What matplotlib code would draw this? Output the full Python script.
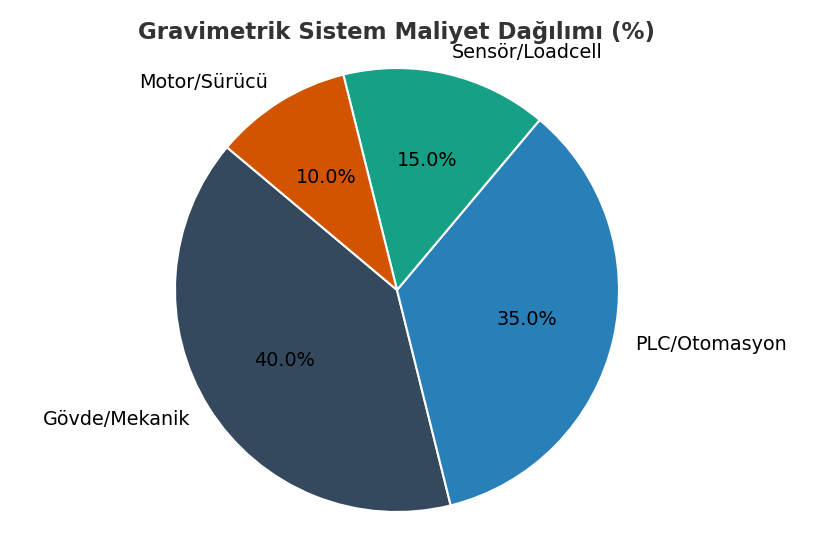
import matplotlib.pyplot as plt

labels = ["Gövde/Mekanik", "PLC/Otomasyon", "Sensör/Loadcell", "Motor/Sürücü"]
shares = [40, 35, 15, 10]
colors = ["#34495e", "#2980b9", "#16a085", "#d35400"]

fig = plt.figure(figsize=(8.25, 5.5), dpi=100)
# square axes centred on the pie (pixel-matched to the reference)
w = 555 / 825
h = 555 / 550
ax = fig.add_axes([(397 - 277.5) / 825, (260 - 277.5) / 550, w, h])
ax.pie(shares, labels=labels, colors=colors, autopct="%1.1f%%", startangle=140,
       wedgeprops=dict(edgecolor="white", linewidth=1.5),
       textprops=dict(fontsize=13.8))
ax.set_aspect("equal")
fig.text(397 / 825, 1 - 32 / 550, "Gravimetrik Sistem Maliyet Dağılımı (%)",
         ha="center", va="center", fontsize=16.5, fontweight="bold", color="#333333")
fig.savefig("out.png", dpi=100)
